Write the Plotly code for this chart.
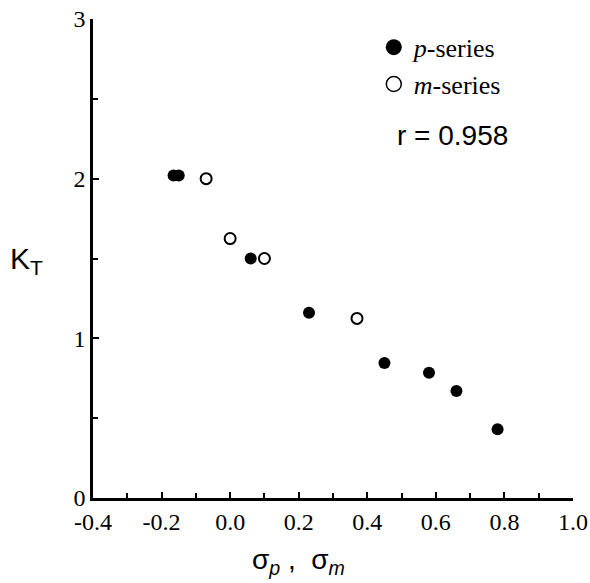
import plotly.graph_objects as go

# Hammett sigma constants vs K_T
p_sigma = [-0.165, -0.15, 0.06, 0.23, 0.45, 0.58, 0.66, 0.78]
p_kt = [2.02, 2.02, 1.50, 1.16, 0.845, 0.785, 0.67, 0.43]

m_sigma = [-0.07, 0.0, 0.10, 0.37]
m_kt = [2.00, 1.625, 1.50, 1.125]

x_ticks = [-0.4, -0.2, 0.0, 0.2, 0.4, 0.6, 0.8, 1.0]
x_labels = ["-0.4", "-0.2", "0.0", "0.2", "0.4", "0.6", "0.8", "1.0"]
y_ticks = [0, 1, 2, 3]

serif = "Liberation Serif"
sans = "Liberation Sans"

filled = dict(color="black", size=12, line=dict(width=0))
hollow = dict(color="white", size=11, line=dict(color="black", width=2))

fig = go.Figure()
fig.add_trace(go.Scatter(x=p_sigma, y=p_kt, mode="markers", marker=filled,
                         showlegend=False))
fig.add_trace(go.Scatter(x=m_sigma, y=m_kt, mode="markers", marker=hollow,
                         showlegend=False))

# legend entries (bigger symbols than the data points, like the original)
fig.add_trace(go.Scatter(x=[None], y=[None], mode="markers", name="<i>p</i>-series",
                         marker=dict(filled, size=16)))
fig.add_trace(go.Scatter(x=[None], y=[None], mode="markers", name="<i>m</i>-series",
                         marker=dict(hollow, size=15, line=dict(color="black", width=1.5))))

fig.update_xaxes(
    range=[-0.4, 1.0], tickvals=x_ticks, ticktext=x_labels,
    showline=True, linecolor="black", linewidth=2.5,
    ticks="inside", ticklen=6, tickwidth=2, tickcolor="black",
    minor=dict(dtick=0.1, ticks="inside", ticklen=5, tickwidth=2, tickcolor="black"),
    showgrid=False, zeroline=False, automargin=False,
    tickfont=dict(family=serif, size=24, color="black"),
)
fig.update_yaxes(
    range=[0, 3], tickvals=y_ticks,
    showline=True, linecolor="black", linewidth=2.5,
    ticks="inside", ticklen=6, tickwidth=2, tickcolor="black",
    minor=dict(dtick=0.5, ticks="inside", ticklen=5, tickwidth=2, tickcolor="black"),
    showgrid=False, zeroline=False, automargin=False,
    tickfont=dict(family=serif, size=24, color="black"),
)

fig.add_annotation(
    x=0.748, y=0.756, xref="paper", yref="paper", showarrow=False,
    xanchor="center", yanchor="middle",
    text="r = 0.958", font=dict(family=sans, size=28, color="black"),
)
fig.add_annotation(
    x=-0.138, y=0.495, xref="paper", yref="paper", showarrow=False,
    xanchor="center", yanchor="middle",
    text="K<sub>T</sub>", font=dict(family=sans, size=30, color="black"),
)
fig.add_annotation(
    x=0.428, y=-0.132, xref="paper", yref="paper", showarrow=False,
    xanchor="center", yanchor="middle",
    text="σ<sub><i>p</i></sub> ,  σ<sub><i>m</i></sub>",
    font=dict(family=sans, size=28, color="black"),
)

fig.update_layout(
    width=590, height=583,
    margin=dict(l=93, r=17, t=19, b=85),
    plot_bgcolor="white", paper_bgcolor="white",
    legend=dict(
        x=0.585, y=0.99, xanchor="left", yanchor="top",
        font=dict(family=serif, size=26, color="black"),
        itemwidth=30, tracegroupgap=0, bgcolor="rgba(0,0,0,0)",
    ),
)

fig.write_html("out.html", config={"displayModeBar": False},
               post_script="document.body.style.margin='0';")
